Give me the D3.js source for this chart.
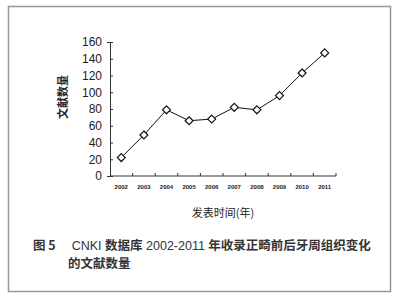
<!DOCTYPE html>
<html>
<head>
<meta charset="utf-8">
<script src="https://cdn.jsdelivr.net/npm/d3@7"></script>
<style>
	body { margin: 0; background: #fff; }
	svg { display: block; font-family: Arial, "Liberation Sans", "Noto Sans CJK SC", sans-serif; }
</style>
</head>
<body>
<div id="chart"></div>
<script>
/* global d3 */

var years = ['2002', '2003', '2004', '2005', '2006', '2007', '2008', '2009', '2010', '2011'];
var counts = [22, 49, 79, 66, 68, 82, 79, 96, 123, 147];
var yTicks = [0, 20, 40, 60, 80, 100, 120, 140, 160];

(function() {

	var outerWidth = 404,
		outerHeight = 300,
		margin = { top: 42, left: 110, right: 68, bottom: 124 },
		width = outerWidth - margin.left - margin.right,
		height = outerHeight - margin.top - margin.bottom,
		cjk = '"Noto Sans CJK SC", sans-serif';

	var svg = d3.select('#chart').append('svg')
		.attr('width', outerWidth)
		.attr('height', outerHeight);

	// Frame round the figure
	svg.append('rect')
		.attr('x', 8.5).attr('y', 6.5)
		.attr('width', 382).attr('height', 285)
		.attr('fill', 'none')
		.attr('stroke', '#999')
		.attr('stroke-width', 1.5);

	var g = svg.append('g')
		.attr('transform', 'translate(' + margin.left + ',' + margin.top + ')');

	var xScale = d3.scaleBand().domain(years).range([0, width]),
		yScale = d3.scaleLinear().domain([0, 160]).range([height, 0]);

	// y-axis
	var gY = g.append('g').call(d3.axisLeft(yScale).tickValues(yTicks).tickSize(3).tickPadding(5));
	gY.select('.domain').attr('stroke', '#333');
	gY.selectAll('.tick line').attr('stroke', '#333').attr('x2', 3).attr('x1', 0);
	gY.selectAll('.tick text').attr('font-size', 12).attr('fill', '#222');

	// x-axis: ticks on band edges, labels at band centres
	var gX = g.append('g').attr('transform', 'translate(0,' + height + ')');
	gX.append('line').attr('x1', 0).attr('x2', width).attr('stroke', '#333');
	gX.selectAll('.xt').data(years).enter().append('line')
		.attr('class', 'xt')
		.attr('x1', function(d) { return xScale(d) + xScale.bandwidth(); })
		.attr('x2', function(d) { return xScale(d) + xScale.bandwidth(); })
		.attr('y1', 0).attr('y2', -3)
		.attr('stroke', '#333');
	gX.selectAll('.xl').data(years).enter().append('text')
		.attr('class', 'xl')
		.attr('x', function(d) { return xScale(d) + xScale.bandwidth() / 2; })
		.attr('y', 13)
		.attr('text-anchor', 'middle')
		.attr('font-size', 6)
		.attr('font-weight', 'bold')
		.attr('fill', '#222')
		.text(function(d) { return d; });

	// Axis titles
	g.append('text')
		.attr('transform', 'translate(' + (-47) + ',' + (height / 2 - 12) + ') rotate(-90)')
		.attr('text-anchor', 'middle')
		.attr('dy', '0.35em')
		.attr('font-family', cjk)
		.attr('font-size', 11)
		.attr('font-weight', 'bold')
		.attr('fill', '#222')
		.text('文献数量');
	g.append('text')
		.attr('x', width / 2)
		.attr('y', height + 41)
		.attr('text-anchor', 'middle')
		.attr('font-family', cjk)
		.attr('font-size', 11)
		.attr('fill', '#222')
		.text('发表时间(年)');

	// Line and markers
	var line = d3.line()
		.x(function(d, i) { return xScale(years[i]) + xScale.bandwidth() / 2; })
		.y(function(d) { return yScale(d); });
	g.append('path')
		.datum(counts)
		.attr('d', line)
		.attr('fill', 'none')
		.attr('stroke', '#111')
		.attr('stroke-width', 1);
	g.selectAll('.pt').data(counts).enter().append('path')
		.attr('class', 'pt')
		.attr('d', d3.symbol().type(d3.symbolDiamond2).size(40))
		.attr('transform', function(d, i) {
			return 'translate(' + (xScale(years[i]) + xScale.bandwidth() / 2) + ',' + yScale(d) + ')';
		})
		.attr('fill', '#fff')
		.attr('stroke', '#111')
		.attr('stroke-width', 1.2);

	// Caption: CJK parts bold, Latin parts in plain Arial
	var parts = [
		['图 5', true], ['\u2003 CNKI ', false], ['数据库', true], [' 2002-2011 ', false],
		['年收录正畸前后牙周组织变化', true]
	];
	var cap = svg.append('text')
		.attr('x', 33).attr('y', 250)
		.attr('font-size', 12.5)
		.attr('fill', '#333');
	parts.forEach(function(p) {
		cap.append('tspan')
			.attr('font-family', p[1] ? cjk : 'Arial, "Liberation Sans", sans-serif')
			.attr('font-weight', p[1] ? 'bold' : 'normal')
			.text(p[0]);
	});
	svg.append('text')
		.attr('x', 68).attr('y', 268)
		.attr('font-family', cjk)
		.attr('font-size', 12.5)
		.attr('font-weight', 'bold')
		.attr('fill', '#333')
		.text('的文献数量');

})();
</script>
</body>
</html>
